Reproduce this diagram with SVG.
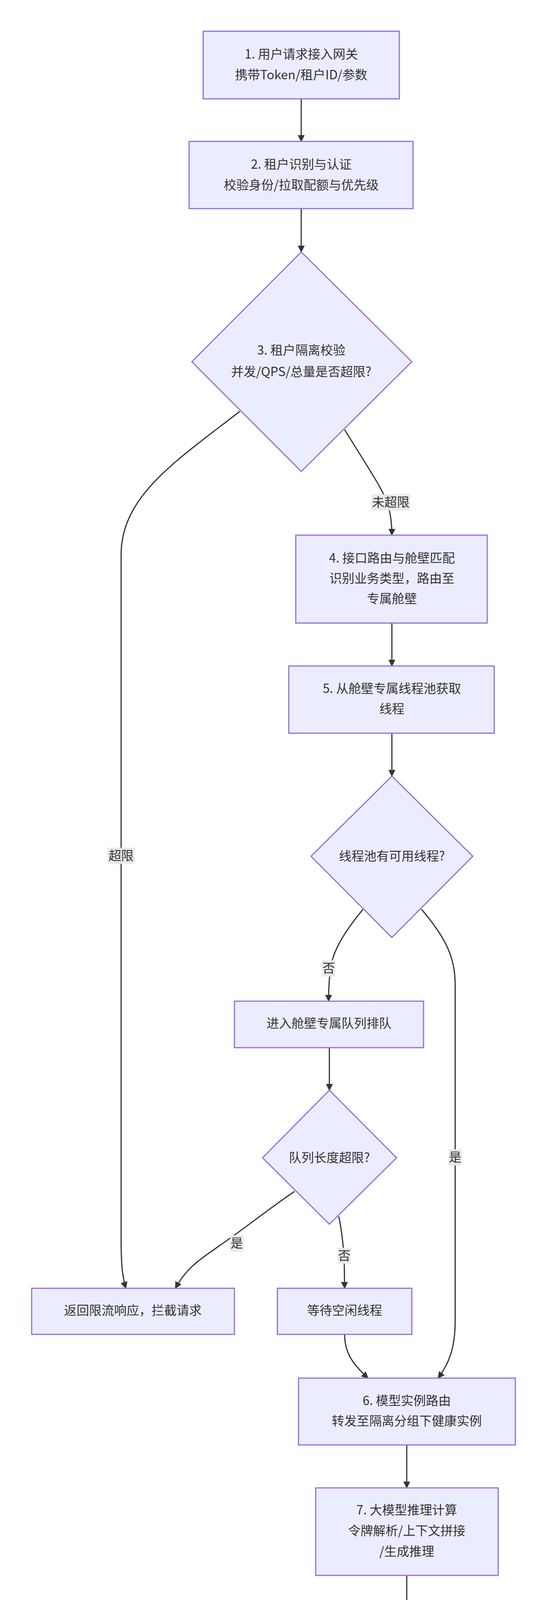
<svg xmlns="http://www.w3.org/2000/svg" width="1400" height="4678" viewBox="0 0 1400 4678">
<style>
.n{fill:#ECECFF;stroke:#9370DB;stroke-width:3}
.t{font-family:"Noto Sans CJK SC","Noto Sans",sans-serif;font-size:32px;fill:#333;text-anchor:middle}
.e{fill:none;stroke:#333;stroke-width:3}
.lb{fill:#e8e8e8;opacity:0.9}
</style>
<defs><marker id="a" viewBox="0 0 10 10" refX="9" refY="5" markerWidth="6" markerHeight="6" orient="auto" markerUnits="strokeWidth"><path d="M0,0L10,5L0,10z" fill="#333"/></marker></defs>
<rect width="1400" height="4678" fill="#fff"/>
<g id="edges">
<path class="e" marker-end="url(#a)" d="M771,253L771,362"/>
<path class="e" marker-end="url(#a)" d="M771,534L771,645"/>
<path class="e" marker-end="url(#a)" d="M614,1053C450,1180 310,1270 310,1420L310,3180C310,3240 314,3270 322,3298"/>
<path class="e" marker-end="url(#a)" d="M882,1100C950,1210 985,1260 995,1300C1000,1320 1003,1340 1003,1370"/>
<path class="e" marker-end="url(#a)" d="M1003,1595L1003,1705"/>
<path class="e" marker-end="url(#a)" d="M1003,1877L1003,1987"/>
<path class="e" marker-end="url(#a)" d="M929,2328C890,2375 860,2420 850,2460C843,2490 841,2530 841,2563"/>
<path class="e" marker-end="url(#a)" d="M1079,2328C1140,2400 1165,2450 1165,2520L1165,3380C1165,3450 1150,3490 1121,3528"/>
<path class="e" marker-end="url(#a)" d="M843,2682L843,2791"/>
<path class="e" marker-end="url(#a)" d="M754,3050C680,3100 620,3150 560,3190C520,3220 480,3240 449,3298"/>
<path class="e" marker-end="url(#a)" d="M867,3114C875,3150 880,3200 881,3230L882,3298"/>
<path class="e" marker-end="url(#a)" d="M882,3416C882,3460 900,3490 942,3528"/>
<path class="e" marker-end="url(#a)" d="M1041,3699L1041,3809"/>
<path class="e" marker-end="url(#a)" d="M1041,4033L1041,4143"/>
<path class="e" marker-end="url(#a)" d="M1041,4314L1041,4424"/>
<rect class="lb" x="950" y="1265" width="100" height="42"/><text class="t" x="1000" y="1297">未超限</text>
<rect class="lb" x="275" y="2170" width="70" height="42"/><text class="t" x="310" y="2202">超限</text>
<rect class="lb" x="824" y="2458" width="34" height="42"/><text class="t" x="841" y="2490">否</text>
<rect class="lb" x="1148" y="2942" width="34" height="42"/><text class="t" x="1165" y="2974">是</text>
<rect class="lb" x="589" y="3162" width="34" height="42"/><text class="t" x="606" y="3194">是</text>
<rect class="lb" x="864" y="3194" width="34" height="42"/><text class="t" x="881" y="3226">否</text>
</g>
<g id="n1"><rect class="n" x="520" y="80" width="502" height="173"/><text class="t" x="771" y="150">1. 用户请求接入网关</text><text class="t" x="771" y="203">携带Token/租户ID/参数</text></g>
<g id="n2"><rect class="n" x="484" y="362" width="573" height="172"/><text class="t" x="771" y="432">2. 租户识别与认证</text><text class="t" x="771" y="485">校验身份/拉取配额与优先级</text></g>
<g id="n3"><polygon class="n" points="771,645 1054,926 771,1207 491,926"/><text class="t" x="771" y="908">3. 租户隔离校验</text><text class="t" x="771" y="963">并发/QPS/总量是否超限?</text></g>
<g id="n4"><rect class="n" x="757" y="1370" width="490" height="225"/><text class="t" x="1003" y="1440">4. 接口路由与舱壁匹配</text><text class="t" x="1003" y="1492">识别业务类型，路由至</text><text class="t" x="1003" y="1544">专属舱壁</text></g>
<g id="n5"><rect class="n" x="739" y="1705" width="526" height="172"/><text class="t" x="1003" y="1774">5. 从舱壁专属线程池获取</text><text class="t" x="1003" y="1826">线程</text></g>
<g id="d1"><polygon class="n" points="1003,1987 1210,2192 1003,2400 796,2192"/><text class="t" x="1003" y="2203">线程池有可用线程?</text></g>
<g id="q"><rect class="n" x="600" y="2563" width="484" height="119"/><text class="t" x="842" y="2631">进入舱壁专属队列排队</text></g>
<g id="d2"><polygon class="n" points="843,2791 1015,2964 843,3134 672,2964"/><text class="t" x="843" y="2975">队列长度超限?</text></g>
<g id="rej"><rect class="n" x="81" y="3298" width="519" height="118"/><text class="t" x="340" y="3366">返回限流响应，拦截请求</text></g>
<g id="wait"><rect class="n" x="710" y="3298" width="344" height="118"/><text class="t" x="882" y="3366">等待空闲线程</text></g>
<g id="n6"><rect class="n" x="764" y="3528" width="555" height="171"/><text class="t" x="1041" y="3597">6. 模型实例路由</text><text class="t" x="1041" y="3649">转发至隔离分组下健康实例</text></g>
<g id="n7"><rect class="n" x="808" y="3809" width="467" height="224"/><text class="t" x="1041" y="3877">7. 大模型推理计算</text><text class="t" x="1041" y="3930">令牌解析/上下文拼接</text><text class="t" x="1041" y="3983">/生成推理</text></g>
<g id="n8"><rect class="n" x="835" y="4143" width="413" height="171"/><text class="t" x="1041" y="4212">8. 结果返回</text><text class="t" x="1041" y="4264">释放工作线程资源</text></g>
<g id="n9"><rect class="n" x="800" y="4424" width="483" height="172"/><text class="t" x="1041" y="4494">9. 配额更新</text><text class="t" x="1041" y="4546">更新并发计数与累计量</text></g>
</svg>
